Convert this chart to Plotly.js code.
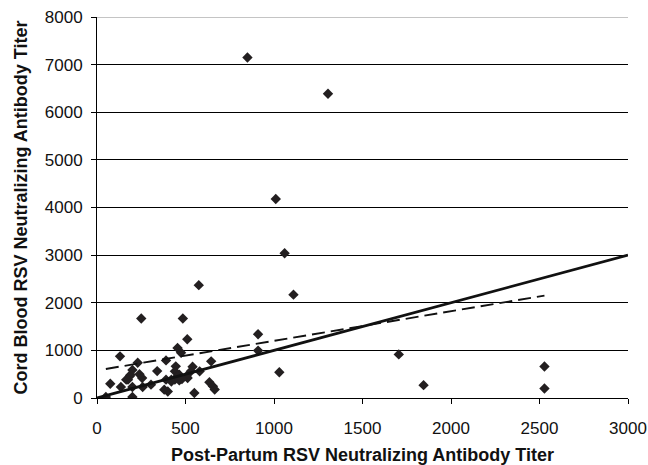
<!DOCTYPE html>
<html>
<head>
<meta charset="utf-8">
<script src="https://cdn.plot.ly/plotly-3.0.1.min.js"></script>
<style>html,body{margin:0;padding:0;background:#fff;}#chart{width:648px;height:465px;}</style>
</head>
<body>
<div id="chart"></div>
<script>
// Post-partum titer (x) and cord blood titer (y)
var postPartum = [850, 1305, 1010, 1060, 1110, 575,
  250, 485, 510, 910, 910, 455, 475,
  1030, 1705, 1845, 2528, 2528,
  130, 230, 390, 645, 200, 340, 445, 540,
  580, 440, 530, 465, 185, 240, 255, 165,
  455, 505, 420, 390, 440, 420, 512, 465, 480,
  305, 75, 135, 200, 258, 380, 400, 550,
  635, 655, 665, 200, 50, 190, 175];
var cordBlood = [7150, 6390, 4180, 3040, 2170, 2370,
  1670, 1670, 1235, 1340, 995, 1050, 950,
  540, 915, 270, 660, 200,
  875, 740, 790, 770, 590, 565, 665, 655,
  560, 560, 560, 490, 455, 500, 420, 385,
  455, 455, 385, 385, 385, 345, 420, 370, 400,
  280, 300, 230, 230, 230, 175, 135, 105,
  330, 245, 180, 20, 20, 490, 385];
// Line of identity (solid) and fitted trend (dashed)
var identityX = [0, 3000];
var identityY = [0, 3000];
var trendX = [50, 2528];
var trendY = [610, 2150];
var xTicks = [0, 500, 1000, 1500, 2000, 2500, 3000];
var yTicks = [0, 1000, 2000, 3000, 4000, 5000, 6000, 7000, 8000];

var FONT = 'Liberation Sans, Arial, sans-serif';
var traces = [
  {x: postPartum, y: cordBlood, type: 'scatter', mode: 'markers',
   marker: {symbol: 'diamond', size: 8, color: '#231f20'}, hoverinfo: 'none'},
  {x: identityX, y: identityY, type: 'scatter', mode: 'lines',
   line: {color: '#111', width: 2.8}, hoverinfo: 'none'},
  {x: trendX, y: trendY, type: 'scatter', mode: 'lines',
   line: {color: '#111', width: 1.9, dash: '13px,6px'}, hoverinfo: 'none'}
];

var layout = {
  width: 648, height: 465,
  margin: {l: 97, r: 20, t: 17, b: 67},
  paper_bgcolor: '#fff', plot_bgcolor: '#fff',
  showlegend: false,
  font: {family: FONT, color: '#111', size: 17},
  xaxis: {
    range: [0, 3000], tickvals: xTicks, ticktext: xTicks.map(String),
    showgrid: false, zeroline: false,
    showline: true, linecolor: '#000', linewidth: 1,
    ticks: 'outside', ticklen: 5, tickcolor: '#000', tickwidth: 1,
    ticklabelstandoff: 10,
    tickfont: {size: 17, color: '#111'},
    automargin: false,
    title: {text: 'Post-Partum RSV Neutralizing Antibody Titer',
            font: {size: 18, color: '#111', family: FONT, weight: 'bold'}, standoff: 10}
  },
  yaxis: {
    range: [0, 8000], tickvals: yTicks, ticktext: yTicks.map(String),
    showgrid: true, gridcolor: '#000', gridwidth: 1, zeroline: false,
    showline: true, linecolor: '#000', linewidth: 1,
    ticks: 'outside', ticklen: 5, tickcolor: '#000', tickwidth: 1,
    ticklabelstandoff: 5,
    tickfont: {size: 17, color: '#111'},
    automargin: false,
    title: {text: 'Cord Blood RSV Neutralizing Antibody Titer',
            font: {size: 18, color: '#111', family: FONT, weight: 'bold'}, standoff: 12}
  },
  shapes: [
    {type: 'line', xref: 'paper', yref: 'y', x0: 0, x1: 1, y0: 8000, y1: 8000,
     line: {color: '#b0b0b0', width: 1.5}, layer: 'above'}
  ]
};

Plotly.newPlot('chart', traces, layout, {staticPlot: true, displayModeBar: false});
</script>
</body>
</html>
